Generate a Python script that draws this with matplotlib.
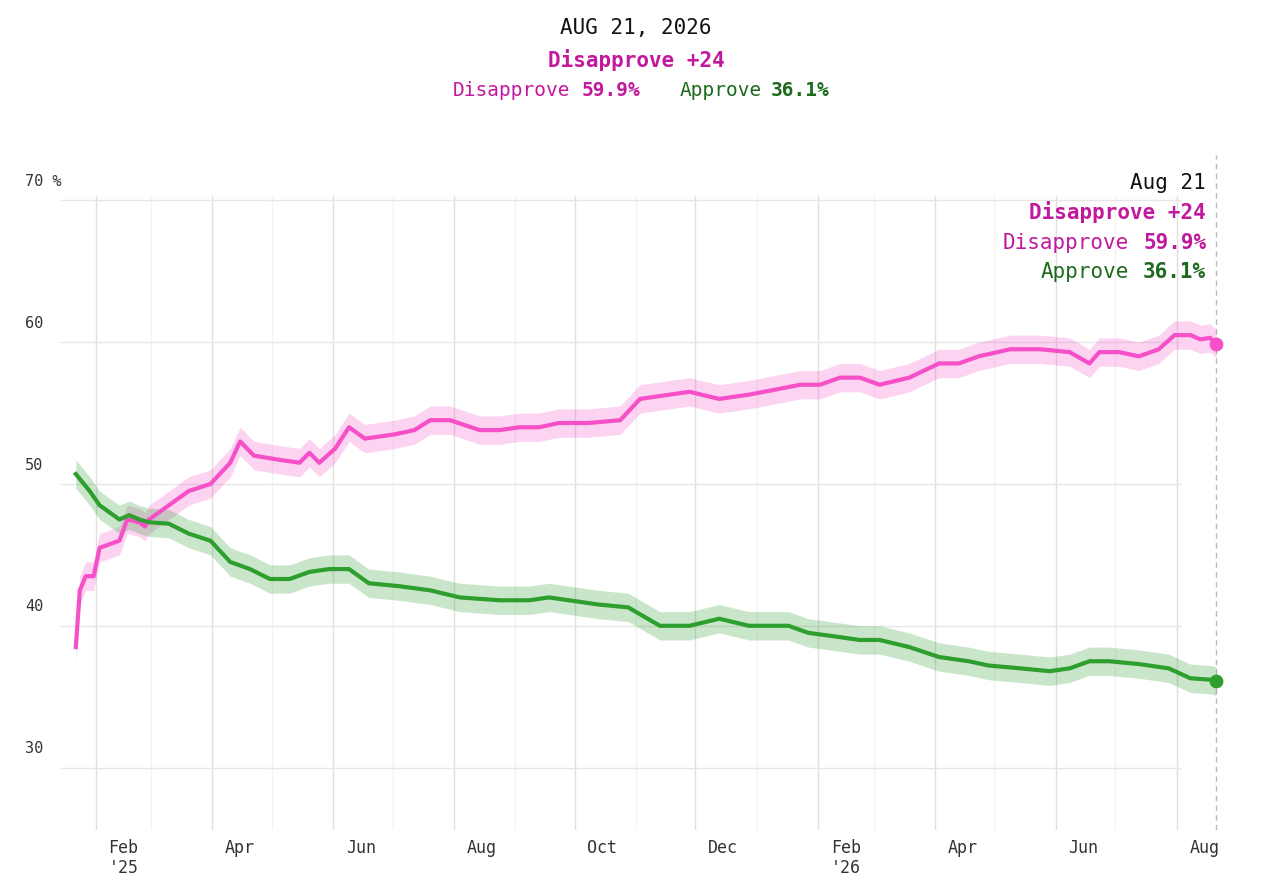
import matplotlib
matplotlib.use("Agg")
import matplotlib.pyplot as plt
import pandas as pd

PINK = "#f550c8"; PINK_D = "#c2189c"; GREEN = "#2e9e2e"; GREEN_D = "#1d6a1d"
GRID = "#e6e6e6"; INK = "#111111"
plt.rcParams["font.family"] = ["DejaVu Sans Mono"]

dis_dates = ["2025-01-22", "2025-01-24", "2025-01-27", "2025-01-31", "2025-02-03", "2025-02-13",
             "2025-02-17", "2025-02-23", "2025-02-26", "2025-02-28", "2025-03-10", "2025-03-20",
             "2025-03-31", "2025-04-10", "2025-04-15", "2025-04-22", "2025-05-05", "2025-05-15",
             "2025-05-20", "2025-05-25", "2025-06-02", "2025-06-09", "2025-06-17", "2025-07-02",
             "2025-07-12", "2025-07-20", "2025-07-30", "2025-08-14", "2025-08-24", "2025-09-03",
             "2025-09-13", "2025-09-23", "2025-10-08", "2025-10-24", "2025-11-03", "2025-11-13",
             "2025-11-28", "2025-12-13", "2025-12-28", "2026-01-12", "2026-01-23", "2026-02-02",
             "2026-02-12", "2026-02-22", "2026-03-04", "2026-03-19", "2026-04-03", "2026-04-13",
             "2026-04-23", "2026-05-09", "2026-05-24", "2026-06-08", "2026-06-18", "2026-06-23",
             "2026-07-03", "2026-07-13", "2026-07-23", "2026-07-31", "2026-08-08", "2026-08-13",
             "2026-08-18", "2026-08-21"]
dis_vals = [38.5, 42.5, 43.5, 43.5, 45.5, 46.0, 47.5, 47.3, 47.0, 47.5, 48.5, 49.5,
            50.0, 51.5, 53.0, 52.0, 51.7, 51.5, 52.2, 51.5, 52.5, 54.0, 53.2, 53.5,
            53.8, 54.5, 54.5, 53.8, 53.8, 54.0, 54.0, 54.3, 54.3, 54.5, 56.0, 56.2,
            56.5, 56.0, 56.3, 56.7, 57.0, 57.0, 57.5, 57.5, 57.0, 57.5, 58.5, 58.5,
            59.0, 59.5, 59.5, 59.3, 58.5, 59.3, 59.3, 59.0, 59.5, 60.5, 60.5, 60.2,
            60.3, 59.9]

app_dates = ["2025-01-22", "2025-01-29", "2025-02-03", "2025-02-08", "2025-02-13", "2025-02-18",
             "2025-02-23", "2025-02-28", "2025-03-10", "2025-03-20", "2025-03-31", "2025-04-10",
             "2025-04-20", "2025-04-30", "2025-05-10", "2025-05-20", "2025-05-30", "2025-06-09",
             "2025-06-19", "2025-07-04", "2025-07-20", "2025-08-04", "2025-08-24", "2025-09-08",
             "2025-09-18", "2025-09-28", "2025-10-13", "2025-10-28", "2025-11-13", "2025-11-28",
             "2025-12-13", "2025-12-28", "2026-01-17", "2026-01-27", "2026-02-12", "2026-02-22",
             "2026-03-04", "2026-03-19", "2026-04-03", "2026-04-18", "2026-04-28", "2026-05-14",
             "2026-05-29", "2026-06-08", "2026-06-18", "2026-06-28", "2026-07-13", "2026-07-28",
             "2026-08-08", "2026-08-18", "2026-08-21"]
app_vals = [50.7, 49.5, 48.5, 48.0, 47.5, 47.8, 47.5, 47.3, 47.2, 46.5, 46.0, 44.5,
            44.0, 43.3, 43.3, 43.8, 44.0, 44.0, 43.0, 42.8, 42.5, 42.0, 41.8, 41.8,
            42.0, 41.8, 41.5, 41.3, 40.0, 40.0, 40.5, 40.0, 40.0, 39.5, 39.2, 39.0,
            39.0, 38.5, 37.8, 37.5, 37.2, 37.0, 36.8, 37.0, 37.5, 37.5, 37.3, 37.0,
            36.3, 36.2, 36.1]

dd = pd.to_datetime(dis_dates); ad = pd.to_datetime(app_dates)
end = pd.Timestamp("2026-08-21")

fig = plt.figure(figsize=(12.72, 8.96), dpi=100)
ax = fig.add_axes([60/1272, 1 - 830/896, 1170/1272, 675/896])
ax.set_xlim(pd.Timestamp("2025-01-14"), pd.Timestamp("2026-08-28"))
ax.set_ylim(25.6, 73.2)
for s in ax.spines.values():
    s.set_visible(False)
ax.set_xticks([]); ax.set_yticks([])

months = pd.date_range("2025-02-01", "2026-08-01", freq="MS")
for m in months:
    major = m.month % 2 == 0
    ax.axvline(m, ymax=(70.3 - 25.6) / (73.2 - 25.6), color="#e0e0e0" if major else "#f3f3f3",
               lw=1.0, zorder=0)
for v in [30, 40, 50, 60, 70]:
    ax.hlines(v, pd.Timestamp("2025-01-14"), pd.Timestamp("2026-08-03"), color=GRID, lw=1, zorder=0)
    ax.text(-0.03, v + 0.8, f"{v} %" if v == 70 else str(v), transform=ax.get_yaxis_transform(),
            fontsize=11, color="#333333", ha="left", va="bottom")
ax.axvline(end, color="#bbbbbb", lw=1, ls=(0, (4, 3)), zorder=1)

for m in months[::2]:
    lab = m.strftime("%b")
    if m.month == 2:
        lab += "\n'" + m.strftime("%y")
    ax.text(m + pd.Timedelta(days=14), 25.0, lab, ha="center", va="top", fontsize=12, color="#333333")

ax.fill_between(dd, [v - 1.0 for v in dis_vals], [v + 1.0 for v in dis_vals], color=PINK, alpha=0.25, lw=0)
ax.fill_between(ad, [v - 1.0 for v in app_vals], [v + 1.0 for v in app_vals], color=GREEN, alpha=0.25, lw=0)
ax.plot(dd, dis_vals, color=PINK, lw=3, zorder=3)
ax.plot(ad, app_vals, color=GREEN, lw=3, zorder=3)
ax.scatter([end], [dis_vals[-1]], s=80, color=PINK, zorder=4)
ax.scatter([end], [app_vals[-1]], s=80, color=GREEN, zorder=4)

ax.text(end - pd.Timedelta(days=5), 70.8, "Aug 21", ha="right", fontsize=15, color=INK)
ax.text(end - pd.Timedelta(days=5), 68.7, "Disapprove +24", ha="right", fontsize=15,
        color=PINK_D, fontweight="bold")
ax.text(end - pd.Timedelta(days=5), 66.6, "59.9%", ha="right", fontsize=15, color=PINK_D, fontweight="bold")
ax.text(end - pd.Timedelta(days=44), 66.6, "Disapprove", ha="right", fontsize=15, color=PINK_D)
ax.text(end - pd.Timedelta(days=5), 64.5, "36.1%", ha="right", fontsize=15, color=GREEN_D, fontweight="bold")
ax.text(end - pd.Timedelta(days=44), 64.5, "Approve", ha="right", fontsize=15, color=GREEN_D)

fig.text(0.5, 1 - 28/896, "AUG 21, 2026", ha="center", va="center", fontsize=15, color=INK)
fig.text(0.5, 1 - 60/896, "Disapprove +24", ha="center", va="center", fontsize=15,
         color=PINK_D, fontweight="bold")
fig.text(453/1272, 1 - 91/896, "Disapprove", ha="left", va="center", fontsize=14, color=PINK_D)
fig.text(582/1272, 1 - 91/896, "59.9%", ha="left", va="center", fontsize=14, color=PINK_D, fontweight="bold")
fig.text(680/1272, 1 - 91/896, "Approve", ha="left", va="center", fontsize=14, color=GREEN_D)
fig.text(771/1272, 1 - 91/896, "36.1%", ha="left", va="center", fontsize=14, color=GREEN_D, fontweight="bold")

fig.savefig("out.png", dpi=100)
